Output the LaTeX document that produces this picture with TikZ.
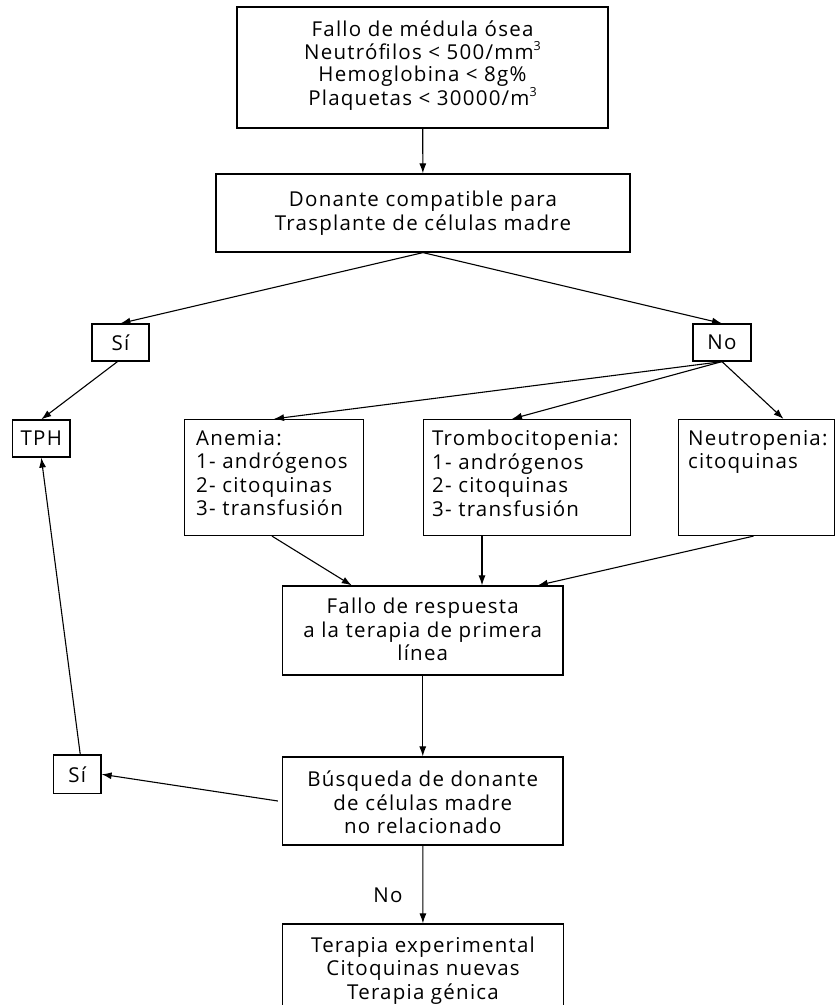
\documentclass[tikz,border=0pt]{standalone}
\usepackage{fontspec}
\setmainfont{Open Sans}[LetterSpace=6]
\usetikzlibrary{arrows.meta,calc}
\newcommand{\supthree}{\raisebox{0.42em}{\fontsize{12.5}{12.5}\selectfont 3}}
\begin{document}
\begin{tikzpicture}[x=1pt,y=-1pt,
  boxst/.style={draw, line width=1.2pt, inner sep=0pt, font=\fontsize{20.5}{23.5}\selectfont},
  txt/.style={inner sep=0pt, font=\fontsize{20.5}{23.5}\selectfont, align=center, anchor=north},
  ltxt/.style={inner sep=0pt, font=\fontsize{20.5}{23.5}\selectfont, align=left, anchor=north west},
  arr/.style={line width=1.1pt, -{Latex[length=10pt,width=7pt]}}]
\useasboundingbox[fill=white] (0,0) rectangle (835,1005);
% boxes
\node[boxst, minimum width=371pt, minimum height=121pt] (b1) at (422.5,67.5) {};
\node[txt, font=\fontsize{20.5}{22.3}\selectfont] (t1) at (422.5,21) {Fallo de médula ósea\\Neutrófilos < 500/mm\supthree\\Hemoglobina < 8g\%\\Plaquetas < 30000/m\supthree};
\node[boxst, minimum width=414pt, minimum height=78pt] (b2) at (423,213) {};
\node[txt, font=\fontsize{20.5}{24.5}\selectfont] (t2) at (423,190.5) {Donante compatible para\\Trasplante de células madre};
\node[boxst, minimum width=57pt, minimum height=37pt] (si1) at (120.5,342.5) {Sí};
\node[boxst, minimum width=58pt, minimum height=37pt] (no) at (722,342.5) {No};
\node[boxst, minimum width=57.5pt, minimum height=37pt] (tph) at (41.3,438.5) {TPH};
\node[boxst, minimum width=179.5pt, minimum height=116pt] (anemia) at (274,477.5) {};
\node[ltxt] (tanemia) at (196,430) {Anemia:\\1- andrógenos\\2- citoquinas\\3- transfusión};
\node[boxst, minimum width=207.5pt, minimum height=116pt] (trombo) at (527,477.5) {};
\node[ltxt] (ttrombo) at (432,430) {Trombocitopenia:\\1- andrógenos\\2- citoquinas\\3- transfusión};
\node[boxst, minimum width=156pt, minimum height=116pt] (neutro) at (756.5,477.5) {};
\node[ltxt] (tneutro) at (688,430) {Neutropenia:\\citoquinas};
\node[boxst, minimum width=280.5pt, minimum height=89pt] (fallo) at (422.75,630.5) {};
\node[txt] (tfallo) at (422.75,598) {Fallo de respuesta\\a la terapia de primera\\línea};
\node[boxst, minimum width=280.5pt, minimum height=88pt] (busq) at (422.75,801) {};
\node[txt] (tbusq) at (422.75,771) {Búsqueda de donante\\de células madre\\no relacionado};
\node[boxst, minimum width=47.5pt, minimum height=38.5pt] (si2) at (77.25,774.25) {Sí};
\node[boxst, minimum width=280.5pt, minimum height=106pt] (terapia) at (423,977) {};
\node[txt] (tterapia) at (423,936.5) {Terapia experimental\\Citoquinas nuevas\\Terapia génica};
% connectors
\draw[arr] (b1) -- (b2);
\draw[arr] (b2.south) -- (si1.north);
\draw[arr] (b2.south) -- (no.north);
\draw[arr] ([xshift=-3pt]si1.south) -- (tph.north);
\draw[arr] (no.south) -- (anemia.north);
\draw[arr] (no.south) -- ([xshift=-15pt]trombo.north);
\draw[arr] (no.south) -- ([xshift=27pt]neutro.north);
\draw[arr] ([xshift=-2pt]anemia.south) -- ([xshift=-71pt]fallo.north);
\draw[arr] ([xshift=-45pt]trombo.south) -- ([xshift=-45pt]trombo.south |- fallo.north);
\draw[arr] ([xshift=-3pt]neutro.south) -- ([xshift=115pt]fallo.north);
\draw[arr] (fallo) -- (busq);
\draw[arr] ([xshift=-4pt]busq.west) -- (si2.east);
\draw[arr] ([xshift=3pt]si2.north) -- (tph.south);
\draw[arr] (busq) -- (terapia);
\node[inner sep=0pt, font=\fontsize{20.5}{23.5}\selectfont, anchor=base] (nolbl) at (388,902.7) {No};
\end{tikzpicture}
\end{document}
